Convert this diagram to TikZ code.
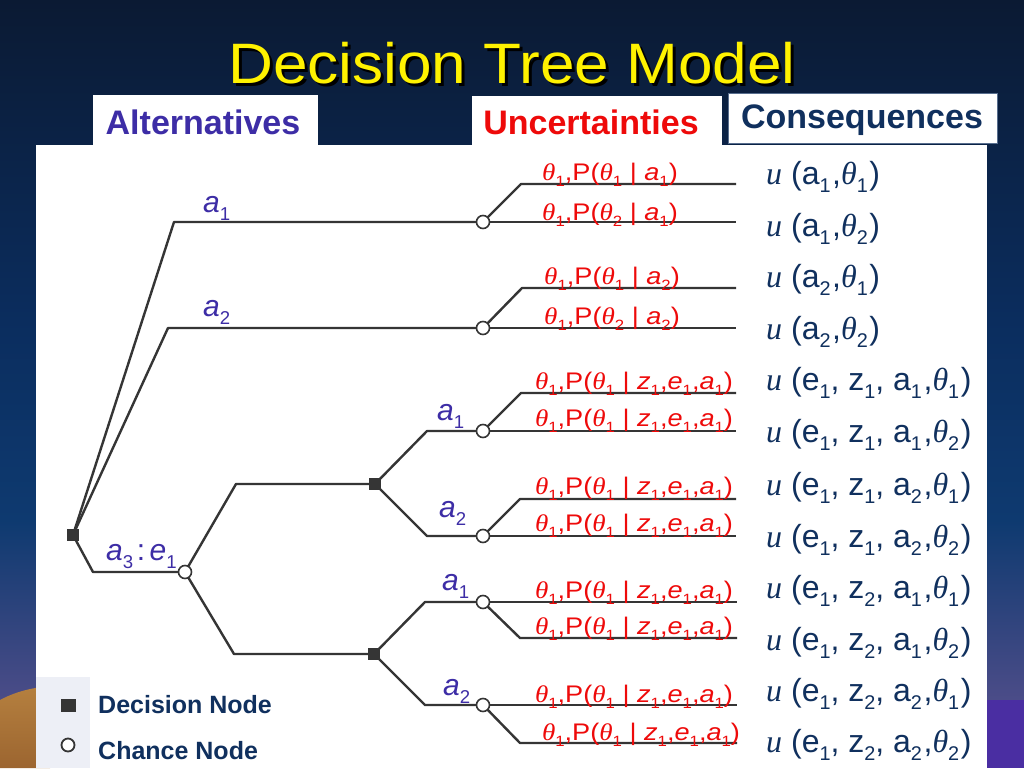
\documentclass[tikz,border=0pt]{standalone}
\usepackage{fontspec}
\setmainfont{Liberation Sans}
\newfontfamily\tms{Liberation Serif}
\usepackage{graphicx}
\pgfdeclarelayer{bgl}
\pgfdeclarelayer{lns}
\pgfsetlayers{bgl,lns,main}
\definecolor{navyA}{HTML}{0B1A33}
\definecolor{navyB}{HTML}{0B2D5E}
\definecolor{navyC}{HTML}{0E3A70}
\definecolor{purpG}{HTML}{4B4C88}
\definecolor{purpB}{HTML}{4A2EA2}
\definecolor{sandA}{HTML}{B5803F}
\definecolor{sandB}{HTML}{9C6530}
\definecolor{altc}{HTML}{3D2DA6}
\definecolor{unc}{HTML}{EE0A0A}
\definecolor{conc}{HTML}{10305E}
\definecolor{treec}{HTML}{353535}
\definecolor{legbg}{HTML}{EDEFF6}
\newcommand\sbx[1]{\raisebox{-0.28em}{\scalebox{0.62}{#1}}}
\newcommand\csb[1]{\sbx{#1}\kern0.05em}
\newcommand\thet{{\tms\itshape θ}}
\newcommand\pz{\thet\sbx{1},P(\thet\sbx{1} | \textit{z}\sbx{1},\textit{e}\sbx{1},\textit{a}\sbx{1})}
\newcommand\pa[2]{\thet\sbx{1},P(\thet\sbx{#1} | \textit{a}\sbx{#2})}
\newcommand\cq[1]{{\tms\itshape u} (#1)}
\tikzset{
  br/.style={line width=2.4pt, draw=treec, line join=round},
  dec/.style={rectangle, fill=treec, minimum size=12pt, inner sep=0pt},
  chn/.style={circle, draw=treec, line width=1.6pt, fill=white, minimum size=13pt, inner sep=0pt},
  hdr/.style={font=\fontsize{34}{36}\selectfont\bfseries},
  lab/.style={anchor=base, text=unc, font=\fontsize{24}{26}\selectfont, inner sep=0pt},
  alab/.style={anchor=base west, text=altc, font=\fontsize{30}{32}\selectfont, inner sep=0pt},
  cons/.style={anchor=base west, text=conc, font=\fontsize{32}{34}\selectfont, inner sep=0pt},
  leg/.style={anchor=west, text=conc, font=\fontsize{25}{27}\selectfont\bfseries, inner sep=0pt}
}
\begin{document}
\begin{tikzpicture}[x=1pt, y=-1pt]
\useasboundingbox (0,0) rectangle (1024,768);
\begin{pgfonlayer}{bgl}
  % background
  \shade[top color=navyA, bottom color=navyB] (0,0) rectangle (1024,320);
  \shade[top color=navyB, bottom color=navyC] (0,320) rectangle (1024,520);
  \shade[top color=navyC, bottom color=purpG] (0,520) rectangle (1024,700);
  \fill[purpB] (960,700) rectangle (1024,768);
  \shade[top color=sandA, bottom color=sandB] (0,700) .. controls (15,692) and (30,688) .. (50,686) -- (50,768) -- (0,768) -- cycle;
  % white panel
  \fill[white] (36,145) rectangle (987,768);
  \fill[legbg] (36,677) rectangle (90,768);
\end{pgfonlayer}

% title
\node[text=black, font=\fontsize{57}{60}\selectfont] (titlesh) at (515,66) {\scalebox{1.09}[1]{Decision Tree Model}};
\node[text=yellow, font=\fontsize{57}{60}\selectfont] (title) at (512,63) {\scalebox{1.09}[1]{Decision Tree Model}};

% header boxes
\fill[white] (93,95) rectangle (318,147);
\fill[white] (472,96) rectangle (722,147);
\filldraw[fill=white, draw=conc!70, line width=1pt] (728,93) rectangle (997,143);
\node[hdr, text=altc] (halt) at (203,122) {Alternatives};
\node[hdr, text=unc] (hunc) at (591,122) {Uncertainties};
\node[hdr, text=conc] (hcon) at (862,120) {Consequences};

% tree node positions
\coordinate (d0) at (73,535);
\coordinate (k1) at (174,222);
\coordinate (c1) at (483,222);
\coordinate (k2) at (168,328);
\coordinate (c2) at (483,328);
\coordinate (k3) at (93,572);
\coordinate (e1) at (185,572);
\coordinate (k4) at (236,484);
\coordinate (d1) at (375,484);
\coordinate (k5) at (234,654);
\coordinate (d2) at (374,654);
\coordinate (k6) at (427,431);
\coordinate (c3) at (483,431);
\coordinate (k7) at (427,536);
\coordinate (c4) at (483,536);
\coordinate (k8) at (425,602);
\coordinate (c5) at (483,602);
\coordinate (k9) at (425,705);
\coordinate (c6) at (483,705);
% outcome corners and ends
\coordinate (u1) at (521,184); \coordinate (o1) at (736,184); \coordinate (o2) at (736,222);
\coordinate (u2) at (522,288); \coordinate (o3) at (736,288); \coordinate (o4) at (736,328);
\coordinate (u3) at (521,393); \coordinate (o5) at (736,393); \coordinate (o6) at (736,431);
\coordinate (u4) at (520,499); \coordinate (o7) at (736,499); \coordinate (o8) at (736,536);
\coordinate (o9) at (737,602); \coordinate (u5) at (520,638); \coordinate (o10) at (737,638);
\coordinate (o11) at (737,705); \coordinate (u6) at (520,743); \coordinate (o12) at (737,743);

\begin{pgfonlayer}{lns}
  \draw[br] (d0) -- (k1) -- (c1);
  \draw[br] (d0) -- (k2) -- (c2);
  \draw[br] (d0) -- (k3) -- (e1);
  \draw[br] (e1) -- (k4) -- (d1);
  \draw[br] (e1) -- (k5) -- (d2);
  \draw[br] (d1) -- (k6) -- (c3);
  \draw[br] (d1) -- (k7) -- (c4);
  \draw[br] (d2) -- (k8) -- (c5);
  \draw[br] (d2) -- (k9) -- (c6);
  \draw[br] (c1) -- (u1) -- (o1); \draw[br] (c1) -- (o2);
  \draw[br] (c2) -- (u2) -- (o3); \draw[br] (c2) -- (o4);
  \draw[br] (c3) -- (u3) -- (o5); \draw[br] (c3) -- (o6);
  \draw[br] (c4) -- (u4) -- (o7); \draw[br] (c4) -- (o8);
  \draw[br] (c5) -- (o9); \draw[br] (c5) -- (u5) -- (o10);
  \draw[br] (c6) -- (o11); \draw[br] (c6) -- (u6) -- (o12);
\end{pgfonlayer}

\node[dec] (nd0) at (d0) {};
\node[dec] (nd1) at (d1) {};
\node[dec] (nd2) at (d2) {};
\node[chn] (nc1) at (c1) {};
\node[chn] (nc2) at (c2) {};
\node[chn] (ne1) at (e1) {};
\node[chn] (nc3) at (c3) {};
\node[chn] (nc4) at (c4) {};
\node[chn] (nc5) at (c5) {};
\node[chn] (nc6) at (c6) {};

% alternative labels
\node[alab] (ta1) at (203,212) {\textit{a}\sbx{1}};
\node[alab] (ta2) at (203,316) {\textit{a}\sbx{2}};
\node[alab] (ta3) at (106,560) {\textit{a}\sbx{3}\kern0.12em:\kern0.15em\textit{e}\sbx{1}};
\node[alab] (tb1) at (437,420) {\textit{a}\sbx{1}};
\node[alab] (tb2) at (439,517) {\textit{a}\sbx{2}};
\node[alab] (tc1) at (442,590) {\textit{a}\sbx{1}};
\node[alab] (tc2) at (443,695) {\textit{a}\sbx{2}};

% uncertainty labels
\node[lab] (l1) at (610,180) {\scalebox{1.13}[1]{\pa{1}{1}}};
\node[lab] (l2) at (610,220) {\scalebox{1.13}[1]{\pa{2}{1}}};
\node[lab] (l3) at (612,284) {\scalebox{1.13}[1]{\pa{1}{2}}};
\node[lab] (l4) at (612,324) {\scalebox{1.13}[1]{\pa{2}{2}}};
\node[lab] (l5) at (634,389) {\scalebox{1.13}[1]{\pz}};
\node[lab] (l6) at (634,426) {\scalebox{1.13}[1]{\pz}};
\node[lab] (l7) at (634,494) {\scalebox{1.13}[1]{\pz}};
\node[lab] (l8) at (634,531) {\scalebox{1.13}[1]{\pz}};
\node[lab] (l9) at (634,598) {\scalebox{1.13}[1]{\pz}};
\node[lab] (l10) at (634,634) {\scalebox{1.13}[1]{\pz}};
\node[lab] (l11) at (634,702) {\scalebox{1.13}[1]{\pz}};
\node[lab] (l12) at (641,740) {\scalebox{1.13}[1]{\pz}};

% consequences
\node[cons] (q1) at (766,184) {\cq{a\csb{1},\thet\csb{1}}};
\node[cons] (q2) at (766,236) {\cq{a\csb{1},\thet\csb{2}}};
\node[cons] (q3) at (766,287) {\cq{a\csb{2},\thet\csb{1}}};
\node[cons] (q4) at (766,339) {\cq{a\csb{2},\thet\csb{2}}};
\node[cons] (q5) at (766,390) {\cq{e\sbx{1}, z\sbx{1}, a\csb{1},\thet\csb{1}}};
\node[cons] (q6) at (766,442) {\cq{e\sbx{1}, z\sbx{1}, a\csb{1},\thet\csb{2}}};
\node[cons] (q7) at (766,495) {\cq{e\sbx{1}, z\sbx{1}, a\csb{2},\thet\csb{1}}};
\node[cons] (q8) at (766,547) {\cq{e\sbx{1}, z\sbx{1}, a\csb{2},\thet\csb{2}}};
\node[cons] (q9) at (766,598) {\cq{e\sbx{1}, z\sbx{2}, a\csb{1},\thet\csb{1}}};
\node[cons] (q10) at (766,650) {\cq{e\sbx{1}, z\sbx{2}, a\csb{1},\thet\csb{2}}};
\node[cons] (q11) at (766,701) {\cq{e\sbx{1}, z\sbx{2}, a\csb{2},\thet\csb{1}}};
\node[cons] (q12) at (766,752) {\cq{e\sbx{1}, z\sbx{2}, a\csb{2},\thet\csb{2}}};

% legend
\node[rectangle, fill=treec, minimum width=15pt, minimum height=13pt, inner sep=0pt] (legd) at (68,705) {};
\node[circle, draw=treec, line width=1.8pt, fill=white, minimum size=13pt, inner sep=0pt] (legc) at (68,745) {};
\node[leg] (legdt) at (98,705) {Decision Node};
\node[leg] (legct) at (98,751) {Chance Node};
\end{tikzpicture}
\end{document}
